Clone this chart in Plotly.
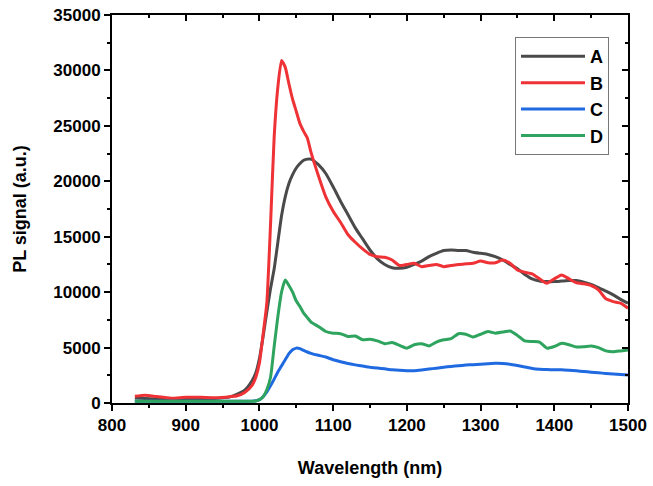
import plotly.graph_objects as go

wavelength = [831, 845, 860, 880, 900, 920, 940, 960, 970, 980, 990, 995,
              1000, 1005, 1010, 1015, 1020, 1025, 1030, 1035, 1040, 1045, 1050,
              1055, 1060, 1065, 1070, 1080, 1090, 1100, 1110, 1120, 1130, 1140,
              1150, 1160, 1170, 1180, 1190, 1200, 1210, 1220, 1230, 1240, 1250,
              1260, 1270, 1280, 1290, 1300, 1310, 1320, 1330, 1340, 1350, 1360,
              1370, 1380, 1390, 1400, 1410, 1420, 1430, 1440, 1450, 1460, 1470,
              1480, 1490, 1500]

sig_a = [450, 400, 350, 300, 320, 350, 400, 550, 800, 1150, 2000, 2700,
         4000, 6000, 8200, 10300, 12100, 14500, 16900, 18600, 19800, 20600, 21200,
         21600, 21900, 22000, 22000, 21500, 20700, 19500, 18200, 17000, 15800, 14800,
         13800, 13000, 12500, 12200, 12150, 12250, 12500, 12800, 13200, 13500, 13750,
         13800, 13750, 13750, 13600, 13500, 13400, 13200, 12900, 12500, 12100, 11600,
         11200, 11000, 10950, 10950, 11000, 11050, 11050, 10900, 10700, 10400, 10100,
         9750, 9350, 9000]

sig_b = [600, 700, 580, 430, 520, 520, 480, 570, 650, 950, 1600, 2300,
         3600, 6200, 9000, 16000, 24000, 28500, 30900, 30300, 28800, 27400, 26300,
         25200, 24500, 23900, 22600, 20500, 18600, 17300, 16300, 15200, 14500, 13900,
         13400, 13200, 13150, 12900, 12400, 12500, 12600, 12300, 12400, 12500, 12300,
         12400, 12500, 12550, 12600, 12800, 12650, 12650, 12900, 12600, 12000, 11800,
         11650, 11200, 10800, 11200, 11550, 11200, 10850, 10750, 10600, 10200, 9400,
         9150, 9000, 8550]

sig_c = [150, 150, 150, 150, 150, 150, 150, 150, 150, 150, 160, 200,
         300, 570, 1000, 1550, 2150, 2800, 3350, 3900, 4450, 4800, 4950,
         4900, 4750, 4600, 4480, 4300, 4150, 3900, 3720, 3560, 3440, 3330,
         3230, 3150, 3080, 3000, 2950, 2920, 2920, 2980, 3060, 3140, 3220,
         3300, 3360, 3420, 3460, 3500, 3550, 3580, 3570, 3500, 3380, 3250,
         3120, 3050, 3020, 3000, 2990, 2950, 2900, 2840, 2780, 2720, 2670,
         2620, 2570, 2530]

sig_d = [150, 150, 150, 150, 150, 150, 150, 150, 150, 150, 160, 180,
         300, 570, 1200, 2300, 5100, 7800, 10000, 11100, 10600, 10000, 9200,
         8700, 8100, 7700, 7300, 6900, 6450, 6300, 6250, 6000, 6050, 5700,
         5750, 5600, 5350, 5450, 5200, 4950, 5250, 5350, 5150, 5500, 5700,
         5800, 6250, 6200, 5950, 6200, 6450, 6300, 6400, 6500, 6100, 5600,
         5550, 5500, 4950, 5100, 5380, 5250, 5050, 5080, 5150, 5000, 4700,
         4620, 4700, 4780]

names = ["A", "B", "C", "D"]
colors = ["#4a4a4a", "#ee3236", "#1f6ae0", "#2fa45e"]
series = [sig_a, sig_b, sig_c, sig_d]

fig = go.Figure()
for name, col, sig in zip(names, colors, series):
    fig.add_trace(go.Scatter(x=wavelength, y=sig, mode="lines", name=name,
                             line=dict(color=col, width=3, shape="spline", smoothing=0.5)))

# empty trace so the top/right axes with inward ticks get drawn
fig.add_trace(go.Scatter(x=[], y=[], xaxis="x2", yaxis="y2", showlegend=False, hoverinfo="skip"))

tickfont = dict(family="Liberation Sans, Arial", size=17, color="black", weight="bold")
fig.update_layout(
    width=653, height=486,
    paper_bgcolor="white", plot_bgcolor="white",
    margin=dict(l=112, r=25, t=15, b=83),
    font=dict(family="Liberation Sans, Arial", color="black"),
    xaxis=dict(range=[800, 1500], dtick=100, tick0=800, showgrid=False, zeroline=False,
               showline=True, linecolor="black", linewidth=2, mirror=True, automargin=False,
               ticks="outside", ticklen=6, tickwidth=2, tickcolor="black",
               minor=dict(dtick=50, ticks="outside", ticklen=3, tickwidth=2, tickcolor="black"),
               tickfont=tickfont,
               title=dict(text="<b>Wavelength (nm)</b>", font=dict(size=18), standoff=27)),
    yaxis=dict(range=[0, 35000], dtick=5000, tickformat="d", showgrid=False, zeroline=False,
               showline=True, linecolor="black", linewidth=2, mirror=True, automargin=False,
               ticks="outside", ticklen=6, tickwidth=2, tickcolor="black",
               minor=dict(dtick=2500, ticks="outside", ticklen=3, tickwidth=2, tickcolor="black"),
               tickfont=tickfont,
               title=dict(text="<b>PL signal (a.u.)</b>", font=dict(size=18), standoff=22)),
    xaxis2=dict(range=[800, 1500], dtick=100, overlaying="x", side="top", anchor="y2",
                showgrid=False, zeroline=False, showticklabels=False, automargin=False,
                ticks="inside", ticklen=6, tickwidth=2, tickcolor="black",
                minor=dict(dtick=50, ticks="inside", ticklen=3, tickwidth=2, tickcolor="black")),
    yaxis2=dict(range=[0, 35000], dtick=5000, overlaying="y", side="right", anchor="x2",
                showgrid=False, zeroline=False, showticklabels=False, automargin=False,
                ticks="inside", ticklen=6, tickwidth=2, tickcolor="black",
                minor=dict(dtick=2500, ticks="inside", ticklen=3, tickwidth=2, tickcolor="black")),
    legend=dict(x=0.781, y=0.943, xanchor="left", yanchor="top",
                bgcolor="white", bordercolor="#777777", borderwidth=1,
                font=dict(size=18, weight="bold"), itemwidth=64, tracegroupgap=0),
    showlegend=True,
)

# page body has a default 8px margin, drop it so the figure fills the window
fig.write_html("out.html", config={"displayModeBar": False},
               post_script="document.body.style.margin='0';")
